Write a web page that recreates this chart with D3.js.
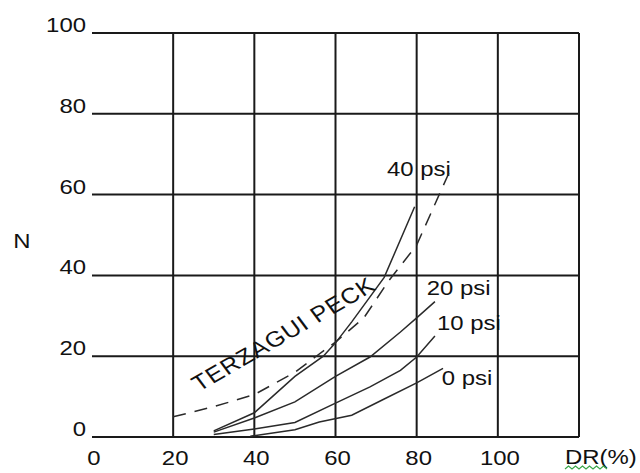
<!DOCTYPE html>
<html>
<head>
<meta charset="utf-8">
<script src="https://cdn.jsdelivr.net/npm/d3@7"></script>
<style>
  body { margin: 0; background: #fff; }
  text { font-family: "Liberation Sans", Arial, sans-serif; font-size: 21px; fill: #111; }
</style>
</head>
<body>
<script>
const width = 640,
      height = 473;

// axis ticks
const xTicks = [0, 20, 40, 60, 80, 100];
const yTicks = [0, 20, 40, 60, 80, 100];
const xGrid = [20, 40, 60, 80, 100, 120];

// curves: DR(%) and N
const dr40 = [30, 40, 50, 57, 60, 64, 72, 79.5],
      n40  = [1.5, 6, 15, 20, 23.3, 28.5, 39.5, 57];
const dr20 = [30, 40, 50, 60, 68.5, 76, 80, 84.5],
      n20  = [1.2, 4.7, 8.7, 15, 19.8, 26, 29.5, 33.5];
const dr10 = [30, 40, 50, 60, 68.5, 76, 80, 84.5],
      n10  = [0.6, 2, 3.6, 8.4, 12.4, 16.5, 19.8, 25];
const dr0  = [39, 50, 56, 64, 72, 80, 86.5],
      n0   = [0.2, 1.8, 3.7, 5.4, 9.4, 13.4, 17];
const drTP = [20, 30, 40, 50, 55, 60, 67, 73, 80, 86, 88.7],
      nTP  = [5, 7.5, 10.5, 16, 19.8, 23.5, 29.5, 38.5, 47.5, 61, 67];

const series = [
  {name: "40 psi", dr: dr40, n: n40},
  {name: "20 psi", dr: dr20, n: n20},
  {name: "10 psi", dr: dr10, n: n10},
  {name: "0 psi",  dr: dr0,  n: n0}
];

// where the labels sit, in chart units
const labelPos = {"40 psi": [72.7, 64.6], "20 psi": [82.5, 35.1], "10 psi": [85, 26.5], "0 psi": [86.2, 12.9]};

const sx = 1.14; // the source text is a bit wide

const x = d3.scaleLinear().domain([0, 120]).range([92, 579]),
      y = d3.scaleLinear().domain([0, 100]).range([437, 33]);

const svg = d3.select("body")
              .append("svg")
              .attr("width", width)
              .attr("height", height);

function label(g, txt, px, py, anchor) {
  return g.append("text")
          .attr("text-anchor", anchor || "start")
          .attr("transform", "translate(" + px + "," + py + ") scale(" + sx + ",1)")
          .text(txt);
}

// grid
const grid = svg.append("g").attr("stroke", "#1a1a1a").attr("stroke-width", 2);
grid.selectAll("line.h")
    .data(yTicks)
    .enter().append("line")
    .attr("class", "h")
    .attr("x1", x(0)).attr("x2", x(120))
    .attr("y1", d => y(d)).attr("y2", d => y(d));
grid.selectAll("line.v")
    .data(xGrid)
    .enter().append("line")
    .attr("class", "v")
    .attr("x1", d => x(d)).attr("x2", d => x(d))
    .attr("y1", y(0)).attr("y2", y(100));

// tick labels
const labels = svg.append("g");
yTicks.forEach(t => label(labels, t, 86, y(t) - 1, "end"));
xTicks.forEach(t => label(labels, t, x(t) + 2, 465, "middle"));
label(labels, "N", 22, 248, "middle");
label(labels, "DR(%)", 565, 464);

// green spell-check squiggle under "DR"
const sq = d3.range(0, 43, 3.5).map((v, i) => [565 + v, i % 2 ? 466 : 469]);
svg.append("path")
   .attr("d", d3.line()(sq))
   .attr("fill", "none")
   .attr("stroke", "#3aa648")
   .attr("stroke-width", 1.2);

// curves
const line = d3.line()
               .x(d => x(d[0]))
               .y(d => y(d[1]));

svg.append("g")
   .selectAll("path")
   .data(series)
   .enter().append("path")
   .attr("d", d => line(d3.zip(d.dr, d.n)))
   .attr("fill", "none")
   .attr("stroke", "#2a2a2a")
   .attr("stroke-width", 1.5);

svg.append("path")
   .attr("d", line(d3.zip(drTP, nTP)))
   .attr("fill", "none")
   .attr("stroke", "#2a2a2a")
   .attr("stroke-width", 1.5)
   .attr("stroke-dasharray", "13,9");

series.forEach(s => {
  const p = labelPos[s.name];
  label(labels, s.name, x(p[0]), y(p[1]));
});

// Terzaghi-Peck label, rotated along the dashed curve
svg.append("text")
   .attr("transform", "translate(199,392) scale(" + sx + ",1) rotate(-33.4)")
   .style("font-size", "22px")
   .style("letter-spacing", "0.8px")
   .text("TERZAGUI PECK");
</script>
</body>
</html>
